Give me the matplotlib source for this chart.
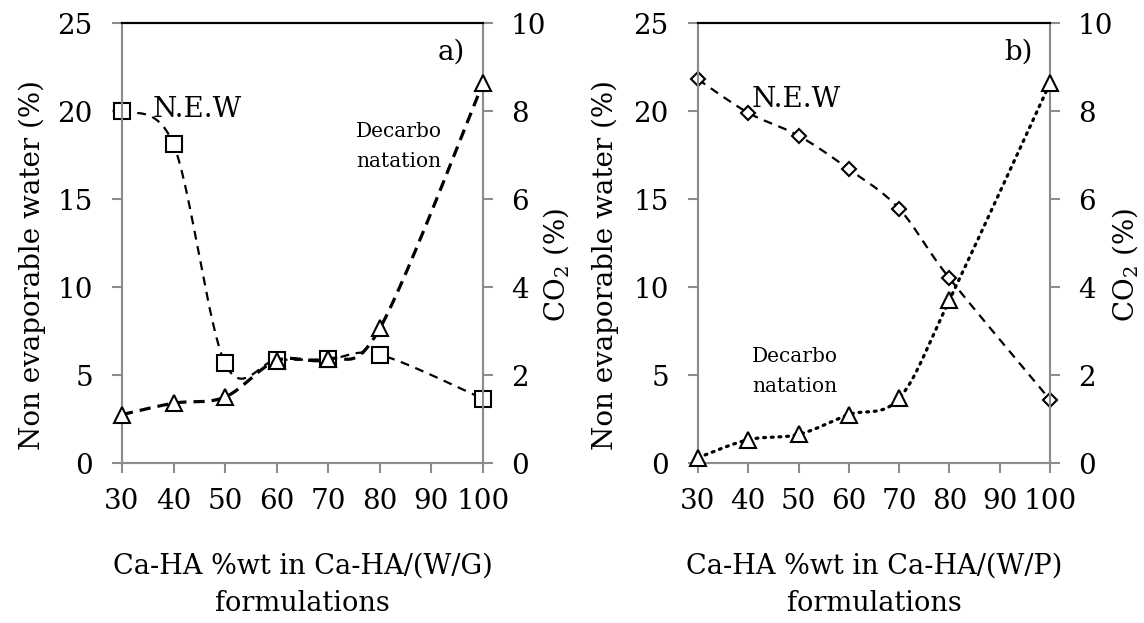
import numpy as np
import matplotlib
matplotlib.use('Agg')
import matplotlib.pyplot as plt

plt.rcParams['font.family'] = ['DejaVu Serif']
plt.rcParams['mathtext.fontset'] = 'dejavuserif'

x_a = [30, 40, 50, 60, 70, 80, 100]
new_a = [20.0, 18.1, 5.66, 5.85, 5.9, 6.15, 3.65]
co2_a = [1.1, 1.36, 1.5, 2.33, 2.36, 3.06, 8.63]

x_b = [30, 40, 50, 60, 70, 80, 100]
new_b = [21.8, 19.9, 18.6, 16.7, 14.45, 10.5, 3.6]
co2_b = [0.12, 0.53, 0.65, 1.1, 1.47, 3.7, 8.63]

xticks = [30, 40, 50, 60, 70, 80, 90, 100]
grey = '#8c8c8c'
fs = 20


def smooth(x, y, xr, yr, w, h, n=30):
    # excel-like bezier smoothing, done in pixel space
    px = (np.array(x, float) - xr[0]) / (xr[1] - xr[0]) * w
    py = (np.array(y, float) - yr[0]) / (yr[1] - yr[0]) * h
    P = np.column_stack([px, py])
    P = np.vstack([P[0], P, P[-1]])
    out = []
    t = np.linspace(0, 1, n)[:, None]
    for i in range(1, len(P) - 2):
        p0, p1, p2, p3 = P[i - 1], P[i], P[i + 1], P[i + 2]
        c1 = p1 + (p2 - p0) / 6
        c2 = p2 - (p3 - p1) / 6
        seg = ((1 - t) ** 3) * p1 + 3 * ((1 - t) ** 2) * t * c1 + 3 * (1 - t) * t ** 2 * c2 + t ** 3 * p2
        out.append(seg if i == 1 else seg[1:])
    out = np.vstack(out)
    sx = out[:, 0] / w * (xr[1] - xr[0]) + xr[0]
    sy = out[:, 1] / h * (yr[1] - yr[0]) + yr[0]
    return sx, sy


fig = plt.figure(figsize=(11.44, 6.23), dpi=100)
H = 440


def setup(ax, ax2):
    ax.set_xlim(30, 100)
    ax.set_ylim(0, 25)
    ax2.set_ylim(0, 10)
    ax.set_xticks(xticks)
    ax.set_yticks(range(0, 26, 5))
    ax2.set_yticks(range(0, 11, 2))
    for a in (ax, ax2):
        for s in ['left', 'right', 'bottom']:
            a.spines[s].set_color(grey)
            a.spines[s].set_linewidth(1.5)
        a.spines['top'].set_color('black')
        a.spines['top'].set_linewidth(1.5)
        a.tick_params(colors=grey, labelcolor='black', labelsize=fs, width=1.5, length=7)
    ax.tick_params(axis='x', pad=11)
    ax.tick_params(axis='y', pad=14)
    ax2.tick_params(axis='y', pad=13)


def labels(ax, ax2, xl, lx, rx):
    ax.set_ylabel('Non evaporable water (%)', fontsize=fs)
    ax.yaxis.set_label_coords(lx, 0.45)
    ax2.set_ylabel('CO$_2$ (%)', fontsize=fs)
    ax2.yaxis.set_label_coords(rx, 0.45)
    ax.set_xlabel(xl, fontsize=19.5, labelpad=27, linespacing=1.5)


# panel a
ax1 = fig.add_axes([0.1066, 0.2568, 0.3156, 0.7062])
ax1b = ax1.twinx()
setup(ax1, ax1b)
W = 361
sx, sy = smooth(x_a, new_a, (30, 100), (0, 25), W, H)
ax1.plot(sx, sy, color='black', lw=1.6, dashes=(4, 3), zorder=3)
ax1.plot(x_a, new_a, ls='none', marker='s', ms=11, mfc='white', mec='black', mew=1.5, zorder=4, clip_on=False)
sx, sy = smooth(x_a, co2_a, (30, 100), (0, 10), W, H)
ax1b.plot(sx, sy, color='black', lw=2.3, dashes=(3.5, 2.2), zorder=3)
ax1b.plot(x_a, co2_a, ls='none', marker='^', ms=12, mfc='white', mec='black', mew=1.5, zorder=4, clip_on=False)
labels(ax1, ax1b, 'Ca-HA %wt in Ca-HA/(W/G)\nformulations', -0.21, 1.16)
ax1b.text(0.95, 0.965, 'a)', transform=ax1.transAxes, fontsize=fs, ha='right', va='top')
ax1b.text(0.086, 0.786, 'N.E.W', transform=ax1.transAxes, fontsize=fs, ha='left', va='baseline')
ax1b.text(0.648, 0.741, 'Decarbo', transform=ax1.transAxes, fontsize=14.5, ha='left', va='baseline')
ax1b.text(0.648, 0.673, 'natation', transform=ax1.transAxes, fontsize=14.5, ha='left', va='baseline')

# panel b
ax2 = fig.add_axes([0.6101, 0.2568, 0.3077, 0.7062])
ax2b = ax2.twinx()
setup(ax2, ax2b)
W2 = 352
sx, sy = smooth(x_b, new_b, (30, 100), (0, 25), W2, H)
ax2.plot(sx, sy, color='black', lw=1.6, dashes=(4, 3), zorder=3)
ax2.plot(x_b, new_b, ls='none', marker='D', ms=7.5, mfc='white', mec='black', mew=1.5, zorder=4, clip_on=False)
sx, sy = smooth(x_b, co2_b, (30, 100), (0, 10), W2, H)
ax2b.plot(sx, sy, color='black', lw=2.3, ls=(0, (0.6, 1.8)), dash_capstyle='round', zorder=3)
ax2b.plot(x_b, co2_b, ls='none', marker='^', ms=12, mfc='white', mec='black', mew=1.5, zorder=4, clip_on=False)
labels(ax2, ax2b, 'Ca-HA %wt in Ca-HA/(W/P)\nformulations', -0.225, 1.17)
ax2b.text(0.95, 0.965, 'b)', transform=ax2.transAxes, fontsize=fs, ha='right', va='top')
ax2b.text(0.153, 0.809, 'N.E.W', transform=ax2.transAxes, fontsize=fs, ha='left', va='baseline')
ax2b.text(0.153, 0.23, 'Decarbo', transform=ax2.transAxes, fontsize=14.5, ha='left', va='baseline')
ax2b.text(0.153, 0.161, 'natation', transform=ax2.transAxes, fontsize=14.5, ha='left', va='baseline')

fig.savefig('out.png', dpi=100)
